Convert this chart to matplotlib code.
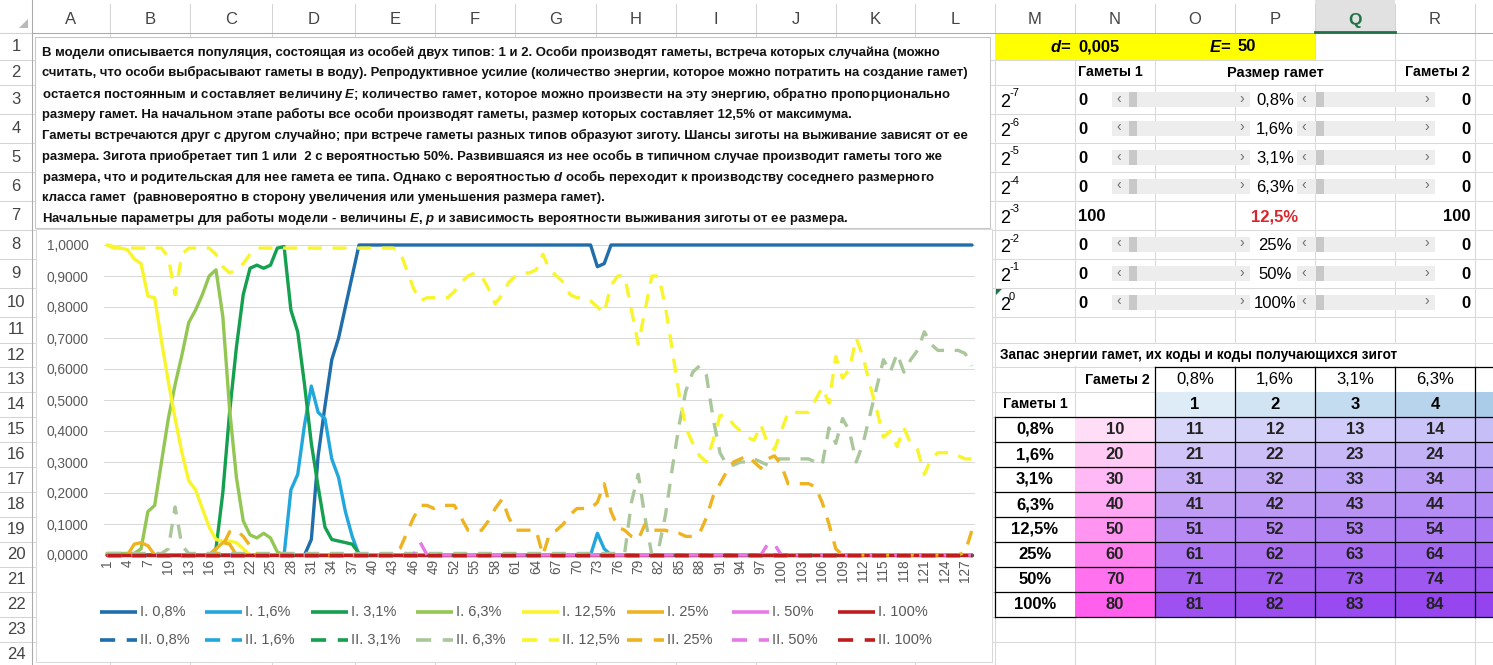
import matplotlib
matplotlib.use("Agg")
import matplotlib.pyplot as plt
import matplotlib.colors as mcolors
from matplotlib import font_manager
from matplotlib.patches import Rectangle, Polygon
from matplotlib.ticker import FuncFormatter

# ---------------------------------------------------------------- data
steps = list(range(1, 129))

sizes = ["0,8%", "1,6%", "3,1%", "6,3%", "12,5%", "25%", "50%", "100%"]
exponents = ["-7", "-6", "-5", "-4", "-3", "-2", "-1", "0"]
gametes_1 = [0, 0, 0, 0, 100, 0, 0, 0]
gametes_2 = [0, 0, 0, 0, 100, 0, 0, 0]
d_value = "0,005"
e_value = "50"

# type I (solid lines)
I_08 = [0, 0, 0, 0, 0, 0, 0, 0, 0, 0, 0, 0, 0, 0, 0, 0,
        0, 0, 0, 0, 0, 0, 0, 0, 0, 0, 0, 0, 0, 0, 0.05, 0.32,
        0.48, 0.63, 0.70, 0.80, 0.90, 1, 1, 1, 1, 1, 1, 1, 1, 1, 1, 1,
        1, 1, 1, 1, 1, 1, 1, 1, 1, 1, 1, 1, 1, 1, 1, 1,
        1, 1, 1, 1, 1, 1, 1, 1, 0.93, 0.94, 1, 1, 1, 1, 1, 1,
        1, 1, 1, 1, 1, 1, 1, 1, 1, 1, 1, 1, 1, 1, 1, 1,
        1, 1, 1, 1, 1, 1, 1, 1, 1, 1, 1, 1, 1, 1, 1, 1,
        1, 1, 1, 1, 1, 1, 1, 1, 1, 1, 1, 1, 1, 1, 1, 1]
I_16 = [0, 0, 0, 0, 0, 0, 0, 0, 0, 0, 0, 0, 0, 0, 0, 0,
        0, 0, 0, 0, 0, 0, 0, 0, 0, 0, 0, 0.21, 0.26, 0.42, 0.545, 0.46,
        0.44, 0.31, 0.25, 0.14, 0.06, 0, 0, 0, 0, 0, 0, 0, 0, 0, 0, 0,
        0, 0, 0, 0, 0, 0, 0, 0, 0, 0, 0, 0, 0, 0, 0, 0,
        0, 0, 0, 0, 0, 0, 0, 0, 0.07, 0.02, 0, 0, 0, 0, 0, 0,
        0, 0, 0, 0, 0, 0, 0, 0, 0, 0, 0, 0, 0, 0, 0, 0,
        0, 0, 0, 0, 0, 0, 0, 0, 0, 0, 0, 0, 0, 0, 0, 0,
        0, 0, 0, 0, 0, 0, 0, 0, 0, 0, 0, 0, 0, 0, 0, 0]
I_31 = [0, 0, 0, 0, 0, 0, 0, 0, 0, 0, 0, 0, 0, 0, 0, 0,
        0.02, 0.2, 0.46, 0.67, 0.84, 0.925, 0.935, 0.925, 0.935, 0.99, 0.995, 0.79, 0.72, 0.55, 0.36, 0.22,
        0.09, 0.05, 0.045, 0.04, 0.035, 0.005, 0, 0, 0, 0, 0, 0, 0, 0, 0, 0,
        0, 0, 0, 0, 0, 0, 0, 0, 0, 0, 0, 0, 0, 0, 0, 0,
        0, 0, 0, 0, 0, 0, 0, 0, 0, 0, 0, 0, 0, 0, 0, 0,
        0, 0, 0, 0, 0, 0, 0, 0, 0, 0, 0, 0, 0, 0, 0, 0,
        0, 0, 0, 0, 0, 0, 0, 0, 0, 0, 0, 0, 0, 0, 0, 0,
        0, 0, 0, 0, 0, 0, 0, 0, 0, 0, 0, 0, 0, 0, 0, 0]
I_63 = [0.005, 0.005, 0.005, 0.005, 0.005, 0.02, 0.14, 0.16, 0.30, 0.44, 0.55, 0.645, 0.75, 0.79, 0.84, 0.90,
        0.92, 0.77, 0.47, 0.25, 0.11, 0.065, 0.055, 0.07, 0.055, 0.01, 0, 0, 0, 0, 0, 0,
        0, 0, 0, 0, 0, 0, 0, 0, 0, 0, 0, 0, 0, 0, 0, 0,
        0, 0, 0, 0, 0, 0, 0, 0, 0, 0, 0, 0, 0, 0, 0, 0,
        0, 0, 0, 0, 0, 0, 0, 0, 0, 0, 0, 0, 0, 0, 0, 0,
        0, 0, 0, 0, 0, 0, 0, 0, 0, 0, 0, 0, 0, 0, 0, 0,
        0, 0, 0, 0, 0, 0, 0, 0, 0, 0, 0, 0, 0, 0, 0, 0,
        0, 0, 0, 0, 0, 0, 0, 0, 0, 0, 0, 0, 0, 0, 0, 0]
I_125 = [1.0, 0.995, 0.99, 0.985, 0.955, 0.94, 0.835, 0.83, 0.69, 0.56, 0.44, 0.33, 0.24, 0.21, 0.15, 0.09,
         0.05, 0.045, 0.045, 0.04, 0.02, 0, 0, 0, 0, 0, 0, 0, 0, 0, 0, 0,
         0, 0, 0, 0, 0, 0, 0, 0, 0, 0, 0, 0, 0, 0, 0, 0,
         0, 0, 0, 0, 0, 0, 0, 0, 0, 0, 0, 0, 0, 0, 0, 0,
         0, 0, 0, 0, 0, 0, 0, 0, 0, 0, 0, 0, 0, 0, 0, 0,
         0, 0, 0, 0, 0, 0, 0, 0, 0, 0, 0, 0, 0, 0, 0, 0,
         0, 0, 0, 0, 0, 0, 0, 0, 0, 0, 0, 0, 0, 0, 0, 0,
         0, 0, 0, 0, 0, 0, 0, 0, 0, 0, 0, 0, 0, 0, 0, 0]
I_25 = [0, 0, 0, 0, 0.035, 0.04, 0.03, 0, 0, 0, 0, 0, 0, 0, 0, 0,
        0.02, 0.04, 0.035, 0, 0, 0, 0, 0, 0, 0, 0, 0, 0, 0, 0, 0,
        0, 0, 0, 0, 0, 0, 0, 0, 0, 0, 0, 0, 0, 0, 0, 0,
        0, 0, 0, 0, 0, 0, 0, 0, 0, 0, 0, 0, 0, 0, 0, 0,
        0, 0, 0, 0, 0, 0, 0, 0, 0, 0, 0, 0, 0, 0, 0, 0,
        0, 0, 0, 0, 0, 0, 0, 0, 0, 0, 0, 0, 0, 0, 0, 0,
        0, 0, 0, 0, 0, 0, 0, 0, 0, 0, 0, 0, 0, 0, 0, 0,
        0, 0, 0, 0, 0, 0, 0, 0, 0, 0, 0, 0, 0, 0, 0, 0]
I_50 = [0] * 128
I_100 = [0] * 128

# type II (dashed lines)
II_08 = [0] * 128
II_16 = [0] * 128
II_31 = [0] * 128
II_63 = [0.005, 0.005, 0.005, 0.005, 0.005, 0.005, 0.005, 0.005, 0.005, 0.02, 0.155, 0.03, 0.005, 0.005, 0.005, 0.005,
         0.005, 0.005, 0.005, 0.005, 0.005, 0.005, 0.005, 0.005, 0.005, 0.005, 0.005, 0.005, 0.005, 0.005, 0.005, 0.005,
         0.005, 0.005, 0.005, 0.005, 0.005, 0.005, 0.005, 0.005, 0.005, 0.005, 0.005, 0.005, 0.005, 0.005, 0.005, 0.005,
         0.005, 0.005, 0.005, 0.005, 0.005, 0.005, 0.005, 0.005, 0.005, 0.005, 0.005, 0.005, 0.005, 0.005, 0.005, 0.005,
         0.005, 0.005, 0.005, 0.005, 0.005, 0.005, 0.005, 0.005, 0.005, 0.005, 0.005, 0.005, 0.005, 0.17, 0.26, 0.12,
         0.0, 0.02, 0.13, 0.28, 0.42, 0.53, 0.59, 0.61, 0.58, 0.44, 0.33, 0.29, 0.29, 0.30, 0.30, 0.31,
         0.30, 0.29, 0.31, 0.31, 0.31, 0.31, 0.31, 0.31, 0.30, 0.29, 0.41, 0.36, 0.44, 0.40, 0.30, 0.36,
         0.45, 0.54, 0.63, 0.59, 0.65, 0.59, 0.63, 0.66, 0.72, 0.68, 0.66, 0.66, 0.66, 0.66, 0.65, 0.61]
II_125 = [1.0, 0.99, 0.99, 0.99, 0.99, 0.99, 0.99, 0.99, 0.99, 0.96, 0.84, 0.97, 0.99, 0.99, 0.99, 0.99,
          0.97, 0.93, 0.91, 0.92, 0.94, 0.97, 0.99, 0.99, 0.99, 0.99, 0.99, 0.99, 0.99, 0.99, 0.99, 0.99,
          0.99, 0.99, 0.99, 0.99, 0.99, 0.99, 0.99, 0.99, 0.99, 0.99, 0.99, 0.98, 0.92, 0.86, 0.82, 0.83,
          0.83, 0.83, 0.83, 0.85, 0.88, 0.90, 0.91, 0.90, 0.86, 0.81, 0.84, 0.88, 0.90, 0.91, 0.91, 0.92,
          0.97, 0.92, 0.90, 0.88, 0.84, 0.83, 0.83, 0.82, 0.80, 0.78, 0.87, 0.90, 0.90, 0.79, 0.68, 0.79,
          0.90, 0.90, 0.80, 0.66, 0.52, 0.41, 0.36, 0.32, 0.30, 0.37, 0.45, 0.45, 0.42, 0.40, 0.38, 0.37,
          0.42, 0.36, 0.34, 0.40, 0.46, 0.46, 0.46, 0.46, 0.50, 0.54, 0.49, 0.64, 0.57, 0.60, 0.70, 0.64,
          0.55, 0.47, 0.38, 0.40, 0.35, 0.41, 0.36, 0.34, 0.26, 0.31, 0.33, 0.33, 0.33, 0.32, 0.31, 0.31]
II_25 = [0, 0, 0, 0, 0, 0, 0, 0, 0, 0, 0, 0, 0, 0, 0, 0,
         0, 0.03, 0.075, 0.08, 0.06, 0.03, 0, 0, 0, 0, 0, 0, 0, 0, 0, 0,
         0, 0, 0, 0, 0, 0, 0, 0, 0, 0, 0, 0.02, 0.07, 0.12, 0.16, 0.16,
         0.15, 0.16, 0.16, 0.16, 0.12, 0.08, 0.08, 0.08, 0.11, 0.15, 0.18, 0.12, 0.08, 0.08, 0.08, 0.08,
         0.0, 0.07, 0.08, 0.10, 0.13, 0.15, 0.15, 0.15, 0.17, 0.23, 0.14, 0.09, 0.08, 0.06, 0.05, 0.10,
         0.08, 0.08, 0.08, 0.07, 0.07, 0.06, 0.06, 0.07, 0.12, 0.19, 0.23, 0.27, 0.30, 0.31, 0.32, 0.30,
         0.28, 0.31, 0.32, 0.29, 0.23, 0.23, 0.23, 0.23, 0.22, 0.17, 0.10, 0.02, 0, 0, 0, 0,
         0, 0, 0, 0, 0, 0, 0, 0, 0, 0, 0, 0, 0, 0, 0.01, 0.08]
II_50 = [0, 0, 0, 0, 0, 0, 0, 0, 0, 0, 0, 0, 0, 0, 0, 0,
         0, 0, 0, 0, 0, 0, 0, 0, 0, 0, 0, 0, 0, 0, 0, 0,
         0, 0, 0, 0, 0, 0, 0, 0, 0, 0, 0, 0, 0, 0, 0.04, 0,
         0, 0, 0, 0, 0, 0, 0, 0, 0, 0, 0, 0, 0, 0, 0, 0,
         0, 0, 0, 0, 0, 0, 0, 0, 0, 0, 0, 0, 0, 0, 0, 0,
         0, 0, 0, 0, 0, 0, 0, 0, 0, 0, 0, 0, 0, 0, 0, 0,
         0, 0.035, 0.035, 0, 0, 0, 0, 0, 0, 0, 0, 0, 0, 0, 0, 0,
         0, 0, 0, 0, 0, 0, 0, 0, 0, 0, 0, 0, 0, 0, 0, 0]
II_100 = [0] * 128

series_I = [I_08, I_16, I_31, I_63, I_125, I_25, I_50, I_100]
series_II = [II_08, II_16, II_31, II_63, II_125, II_25, II_50, II_100]

# zygote codes table (rows: gametes 1, first column: gametes 2 code)
size_codes = [1, 2, 3, 4, 5]
zygote_codes = [[10, 11, 12, 13, 14, 15],
                [20, 21, 22, 23, 24, 25],
                [30, 31, 32, 33, 34, 35],
                [40, 41, 42, 43, 44, 45],
                [50, 51, 52, 53, 54, 55],
                [60, 61, 62, 63, 64, 65],
                [70, 71, 72, 73, 74, 75],
                [80, 81, 82, 83, 84, 85]]

text_lines = [
    "В модели описывается популяция, состоящая из особей двух типов: 1 и 2. Особи производят гаметы, встреча которых случайна (можно",
    "считать, что особи выбрасывают гаметы в воду). Репродуктивное усилие (количество энергии, которое можно потратить на создание гамет)",
    "остается постоянным и составляет величину $E$; количество гамет, которое можно произвести на эту энергию, обратно пропорционально",
    "размеру гамет. На начальном этапе работы все особи производят гаметы, размер которых составляет 12,5% от максимума.",
    "Гаметы встречаются друг с другом случайно; при встрече гаметы разных типов образуют зиготу. Шансы зиготы на выживание зависят от ее",
    "размера. Зигота приобретает тип 1 или  2 с вероятностью 50%. Развившаяся из нее особь в типичном случае производит гаметы того же",
    "размера, что и родительская для нее гамета ее типа. Однако с вероятностью $d$ особь переходит к производству соседнего размерного",
    "класса гамет  (равновероятно в сторону увеличения или уменьшения размера гамет).",
    "Начальные параметры для работы модели - величины $E$, $p$ и зависимость вероятности выживания зиготы от ее размера.",
]

# ---------------------------------------------------------------- style
colors_I = ["#1F6DAB", "#22A7DD", "#14A04F", "#93C653", "#F8F52C", "#EEB320", "#E679E6", "#BF1D1D"]
colors_II = ["#1F6DAB", "#22A7DD", "#14A04F", "#AAC79B", "#F8F52C", "#EEB320", "#E679E6", "#BF1D1D"]
DASH = (0, (4.2, 3.2))

names = {f.name for f in font_manager.fontManager.ttflist}
NARROW = "Liberation Sans Narrow" if "Liberation Sans Narrow" in names else "Liberation Sans"
plt.rcParams["font.family"] = [NARROW, "DejaVu Sans"]
plt.rcParams["mathtext.fontset"] = "custom"
plt.rcParams["mathtext.rm"] = NARROW + ":bold"
plt.rcParams["mathtext.it"] = NARROW + ":italic:bold"
plt.rcParams["mathtext.bf"] = NARROW + ":bold"

W, H = 1493, 665
COLS = [32, 110, 190, 272, 355, 435, 515, 596, 676, 756, 836, 915, 995,
        1075, 1155, 1235, 1315, 1395, 1475, 1555]
ROWS = [33, 60, 85, 114, 143, 172, 201, 230, 259, 288, 317, 343, 367,
        392, 417, 442, 467, 492, 517, 542, 567, 592, 617, 642, 667]
GRID = "#D9D9D9"


def rc(r):
    return (ROWS[r - 1] + ROWS[r]) / 2


def lerp(c1, c2, t):
    a, b = mcolors.to_rgb(c1), mcolors.to_rgb(c2)
    return tuple(a[i] + (b[i] - a[i]) * t for i in range(3))


fig = plt.figure(figsize=(W / 100, H / 100), dpi=100)
bg = fig.add_axes([0, 0, 1, 1])
bg.set_xlim(0, W)
bg.set_ylim(H, 0)
bg.axis("off")

# sheet grid
for x in COLS:
    bg.plot([x, x], [0, H], color=GRID, lw=0.75, zorder=1)
for y in ROWS:
    bg.plot([0, W], [y, y], color=GRID, lw=0.75, zorder=1)

# column header band
bg.add_patch(Rectangle((0, 0), W, 33, facecolor="white", edgecolor="none", zorder=2))
bg.add_patch(Rectangle((1315, 0), 80, 33, facecolor="#E1E1E1", edgecolor="none", zorder=2))
for x in COLS:
    bg.plot([x, x], [4, 33], color="#D4D4D4", lw=0.75, zorder=3)
bg.plot([0, W], [33, 33], color="#ABABAB", lw=0.75, zorder=3)
bg.plot([1315, 1395], [32, 32], color="#217346", lw=2, zorder=4)
for i, letter in enumerate("ABCDEFGHIJKLMNOPQR"):
    cx = (COLS[i] + COLS[i + 1]) / 2
    if letter == "Q":
        bg.text(cx, 20, letter, ha="center", va="center", fontsize=12.5, fontweight="bold",
                color="#217346", family="Liberation Sans", zorder=4)
    else:
        bg.text(cx, 20, letter, ha="center", va="center", fontsize=12, color="#444444",
                family="Liberation Sans", zorder=4)
bg.add_patch(Polygon([(19, 28), (28, 28), (28, 19)], closed=True, facecolor="#B9B9B9",
                     edgecolor="none", zorder=4))

# row number column
bg.add_patch(Rectangle((0, 33), 32, H - 33, facecolor="white", edgecolor="none", zorder=2))
for y in ROWS:
    bg.plot([0, 32], [y, y], color="#D4D4D4", lw=0.75, zorder=3)
bg.plot([32, 32], [0, H], color="#ABABAB", lw=0.75, zorder=3)
for r in range(1, 25):
    bg.text(16, rc(r), str(r), ha="center", va="center", fontsize=12, color="#444444",
            family="Liberation Sans", zorder=4)

# ---------------------------------------------------------------- text box
bg.add_patch(Rectangle((35, 37), 955, 191, facecolor="white", edgecolor="#C6C6C6", lw=0.75, zorder=5))
renderer = fig.canvas.get_renderer()
t0 = bg.text(42, 52, text_lines[0], ha="left", va="center", fontsize=10, fontweight="bold", zorder=6)
w0 = t0.get_window_extent(renderer).width
fs_text = 10 * 895 / w0
t0.remove()
for k, line in enumerate(text_lines):
    bg.text(42, 52 + 20.8 * k, line, ha="left", va="center", fontsize=fs_text,
            fontweight="bold", color="#111111", zorder=6)

# ---------------------------------------------------------------- chart
bg.add_patch(Rectangle((36, 229), 956, 433, facecolor="white", edgecolor="#D9D9D9", lw=0.75, zorder=5))

x_left, x_right, y_top, y_bottom = 103.6, 975.4, 245, 555
ax = fig.add_axes([x_left / W, 1 - y_bottom / H, (x_right - x_left) / W, (y_bottom - y_top) / H])
ax.patch.set_alpha(0)
ax.set_xlim(0.5, 128.5)
ax.set_ylim(0, 1)
for s in ax.spines.values():
    s.set_visible(False)
ax.set_yticks([i / 10 for i in range(11)])
ax.yaxis.set_major_formatter(FuncFormatter(lambda v, p: f"{v:.4f}".replace(".", ",")))
ax.set_xticks(steps[::3])
ax.set_xticklabels([str(s) for s in steps[::3]])
ax.tick_params(axis="y", length=0, pad=11, labelsize=9.9, labelcolor="#595959",
               labelfontfamily="Liberation Sans")
ax.tick_params(axis="x", length=0, pad=3, labelsize=9.8, labelcolor="#595959",
               labelrotation=90, labelfontfamily="Liberation Sans")
ax.yaxis.grid(True, color=GRID, lw=0.75)
ax.set_axisbelow(True)

z = 3
for vals, c in zip(series_I, colors_I):
    ax.plot(steps, vals, color=c, lw=2.4, solid_joinstyle="round", solid_capstyle="round",
            clip_on=False, zorder=z)
    z += 1
for vals, c in zip(series_II, colors_II):
    ax.plot(steps, vals, color=c, lw=2.4, linestyle=DASH, dash_joinstyle="round",
            clip_on=False, zorder=z)
    z += 1

# legend
for k, s in enumerate(sizes):
    x0 = 100 + k * 105.4
    bg.plot([x0, x0 + 37], [612, 612], color=colors_I[k], lw=2.6, solid_capstyle="butt", zorder=7)
    bg.text(x0 + 40, 612, f"I. {s}", ha="left", va="center", fontsize=10.5, color="#595959", zorder=7)
    bg.plot([x0, x0 + 37], [640, 640], color=colors_II[k], lw=2.6, linestyle=DASH, zorder=7)
    bg.text(x0 + 40, 640, f"II. {s}", ha="left", va="center", fontsize=10.5, color="#595959", zorder=7)

# ---------------------------------------------------------------- right panel
bg.add_patch(Rectangle((995, 33), 320, 27, facecolor="#FFFF00", edgecolor="none", zorder=2))
bg.text(1071, rc(1), "$d$=", ha="right", va="center", fontsize=12, fontweight="bold", zorder=4)
bg.text(1078, rc(1), d_value, ha="left", va="center", fontsize=12, fontweight="bold", zorder=4)
bg.text(1231, rc(1), "$E$=", ha="right", va="center", fontsize=12, fontweight="bold", zorder=4)
bg.text(1238, rc(1), e_value, ha="left", va="center", fontsize=12, fontweight="bold", zorder=4)

bg.add_patch(Rectangle((1156, 61), 238, 23, facecolor="white", edgecolor="none", zorder=2))
bg.text(1078, rc(2), "Гаметы 1", ha="left", va="center", fontsize=10.2, fontweight="bold", zorder=4)
bg.text(1275, rc(2), "Размер гамет", ha="center", va="center", fontsize=10.5, fontweight="bold", zorder=4)
bg.text(1470, rc(2), "Гаметы 2", ha="right", va="center", fontsize=10.2, fontweight="bold", zorder=4)

for k in range(8):
    r = 3 + k
    y = rc(r) + 1
    bg.text(1000, y + 2, "2", ha="left", va="center", fontsize=13, zorder=4)
    bg.text(1009, y - 7, exponents[k], ha="left", va="center", fontsize=8, zorder=4)
    bg.text(1078, y, str(gametes_1[k]), ha="left", va="center", fontsize=12, fontweight="bold", zorder=4)
    bg.text(1470, y, str(gametes_2[k]), ha="right", va="center", fontsize=12, fontweight="bold", zorder=4)
    if sizes[k] == "12,5%":
        bg.text(1275, y, sizes[k], ha="center", va="center", fontsize=12, fontweight="bold",
                color="#D7262C", zorder=4)
        continue
    bg.text(1275, y, sizes[k], ha="center", va="center", fontsize=12, zorder=4)
    yc = rc(r)
    for (x0, x1, th) in [(1112, 1250, 1129), (1297, 1435, 1316)]:
        bg.add_patch(Rectangle((x0, yc - 7.5), x1 - x0, 15, facecolor="#EDEDED", edgecolor="none", zorder=3))
        bg.add_patch(Rectangle((th, yc - 7.5), 8, 15, facecolor="#C8C8C8", edgecolor="none", zorder=3))
        bg.text(x0 + 7, yc - 1, "‹", ha="center", va="center", fontsize=10, color="#6E6E6E",
                family="Liberation Sans", zorder=4)
        bg.text(x1 - 8, yc - 1, "›", ha="center", va="center", fontsize=10, color="#6E6E6E",
                family="Liberation Sans", zorder=4)
bg.add_patch(Polygon([(996, 289), (1002, 289), (996, 295)], closed=True, facecolor="#217346",
                     edgecolor="none", zorder=4))

# zygote code table
bg.add_patch(Rectangle((996, 344), 420, 22, facecolor="white", edgecolor="none", zorder=2))
bg.text(1000, rc(12), "Запас энергии гамет, их коды и коды получающихся зигот", ha="left",
        va="center", fontsize=9.8, fontweight="bold", zorder=4)
bg.text(1150, rc(13), "Гаметы 2", ha="right", va="center", fontsize=10.2, fontweight="bold", zorder=4)
bg.text(1035, rc(14), "Гаметы 1", ha="center", va="center", fontsize=10.2, fontweight="bold", zorder=4)

code_cols = COLS[14:20]
for c in range(5):
    x0, x1 = code_cols[c], code_cols[c + 1]
    bg.add_patch(Rectangle((x0, ROWS[12]), x1 - x0, ROWS[13] - ROWS[12], facecolor="white",
                           edgecolor="none", zorder=2))
    bg.add_patch(Rectangle((x0, ROWS[13]), x1 - x0, ROWS[14] - ROWS[13],
                           facecolor=lerp("#DEECF7", "#AACCE8", c / 4), edgecolor="none", zorder=2))
    if c < 4:
        bg.text((x0 + x1) / 2, rc(13), sizes[c], ha="center", va="center", fontsize=12, zorder=4)
        bg.text((x0 + x1) / 2, rc(14), str(size_codes[c]), ha="center", va="center", fontsize=12,
                fontweight="bold", zorder=4)

for k in range(8):
    r = 15 + k
    y0, y1 = ROWS[r - 1], ROWS[r]
    t = k / 7
    bg.add_patch(Rectangle((995, y0), 80, y1 - y0, facecolor="white", edgecolor="none", zorder=2))
    bg.add_patch(Rectangle((1075, y0), 80, y1 - y0, facecolor=lerp("#FFDDF7", "#FF5FEC", t),
                           edgecolor="none", zorder=2))
    bg.text(1035, rc(r), sizes[k], ha="center", va="center", fontsize=12, fontweight="bold", zorder=4)
    bg.text(1115, rc(r), str(zygote_codes[k][0]), ha="center", va="center", fontsize=12,
            fontweight="bold", color="#222222", zorder=4)
    for c in range(5):
        x0, x1 = code_cols[c], code_cols[c + 1]
        fc = lerp(lerp("#D9D7F9", "#9E50F0", t), lerp("#C6BEF7", "#9443EF", t), c / 4)
        bg.add_patch(Rectangle((x0, y0), x1 - x0, y1 - y0, facecolor=fc, edgecolor="none", zorder=2))
        if c < 4:
            bg.text((x0 + x1) / 2, rc(r), str(zygote_codes[k][c + 1]), ha="center", va="center",
                    fontsize=12, fontweight="bold", color="#222222", zorder=4)

for y in ROWS[14:23]:
    bg.plot([995, W], [y, y], color="black", lw=0.9, zorder=3)
bg.plot([1155, W], [ROWS[12], ROWS[12]], color="black", lw=0.9, zorder=3)
bg.plot([995, 995], [ROWS[14], ROWS[22]], color="black", lw=0.9, zorder=3)
for x in code_cols:
    bg.plot([x, x], [ROWS[12], ROWS[22]], color="black", lw=0.9, zorder=3)

fig.savefig("out.png", dpi=100)
